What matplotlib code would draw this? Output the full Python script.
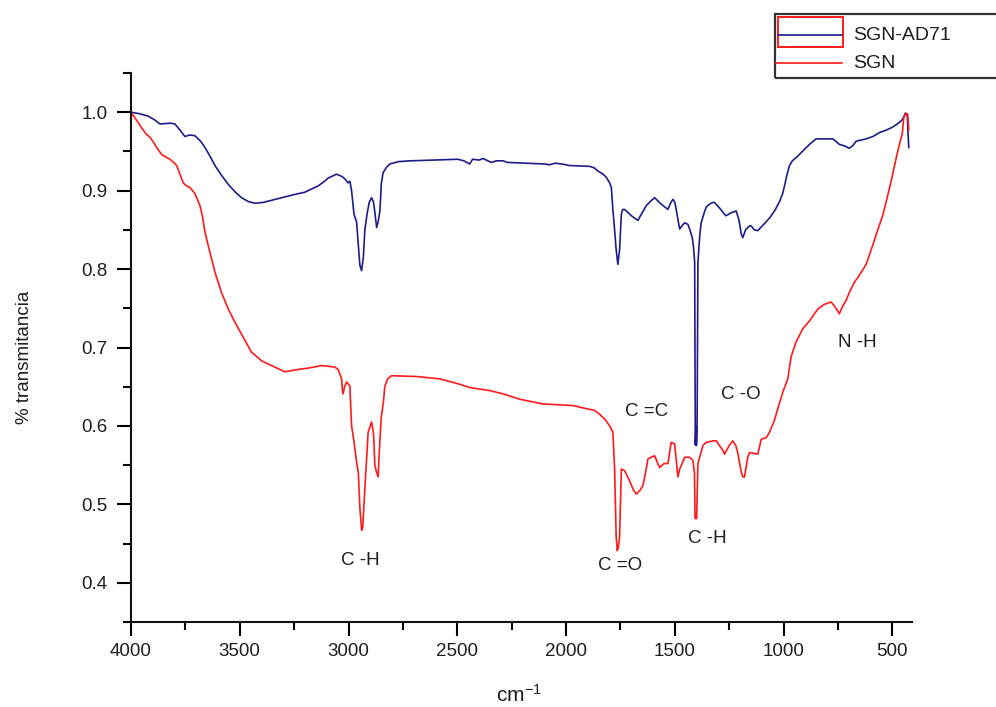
import matplotlib
matplotlib.use('Agg')
import matplotlib.pyplot as plt
from matplotlib.lines import Line2D
from matplotlib.patches import Rectangle
from matplotlib.ticker import MultipleLocator

plt.rcParams['font.family'] = ['Liberation Sans', 'DejaVu Sans']
plt.rcParams['mathtext.fontset'] = 'custom'
plt.rcParams['mathtext.rm'] = 'Liberation Sans'
plt.rcParams['mathtext.default'] = 'regular'

# FTIR spectra, wavenumber (cm-1) vs transmittance
series_names = ['SGN-AD71', 'SGN']

wn_ad71 = [4000, 3960, 3921, 3890, 3867, 3820, 3798, 3783, 3752, 3730, 3706, 3680, 3660,
           3637, 3614, 3585, 3553, 3520, 3492, 3460, 3430, 3392, 3350, 3308, 3250, 3201,
           3170, 3140, 3110, 3094, 3055, 3030, 3017, 3002, 2994, 2986, 2975, 2963, 2955,
           2948, 2940, 2932, 2925, 2915, 2905, 2894, 2885, 2878, 2871, 2864, 2856, 2849,
           2841, 2825, 2810, 2770, 2719, 2600, 2497, 2470, 2443, 2430, 2400, 2382, 2344,
           2320, 2290, 2270, 2190, 2100, 2076, 2050, 2020, 1984, 1892, 1870, 1854, 1830,
           1815, 1800, 1792, 1785, 1777, 1770, 1762, 1754, 1746, 1740, 1731, 1715, 1700,
           1670, 1650, 1631, 1610, 1593, 1575, 1563, 1532, 1520, 1509, 1500, 1494, 1478,
           1465, 1455, 1440, 1432, 1420, 1415, 1409, 1406, 1403, 1401, 1398, 1394, 1385,
           1379, 1365, 1356, 1340, 1325, 1318, 1295, 1272, 1264, 1240, 1218, 1205, 1195,
           1188, 1175, 1157, 1149, 1135, 1119, 1095, 1065, 1040, 1019, 1005, 996, 985,
           973, 960, 943, 910, 881, 851, 810, 774, 760, 744, 720, 698, 680, 667, 621, 590,
           560, 530, 499, 468, 453, 440, 432, 425]
tr_ad71 = [1.000, 0.998, 0.995, 0.990, 0.985, 0.986, 0.985, 0.980, 0.969, 0.971, 0.970, 0.963, 0.955,
           0.944, 0.932, 0.920, 0.908, 0.898, 0.891, 0.886, 0.884, 0.885, 0.888, 0.891, 0.895, 0.898,
           0.902, 0.906, 0.912, 0.916, 0.921, 0.918, 0.915, 0.910, 0.912, 0.900, 0.870, 0.860, 0.830,
           0.805, 0.798, 0.815, 0.850, 0.870, 0.885, 0.891, 0.885, 0.870, 0.853, 0.860, 0.874, 0.910,
           0.923, 0.930, 0.934, 0.937, 0.938, 0.939, 0.940, 0.938, 0.934, 0.940, 0.939, 0.941, 0.936,
           0.938, 0.938, 0.936, 0.935, 0.934, 0.933, 0.935, 0.934, 0.932, 0.931, 0.929, 0.925, 0.921,
           0.917, 0.910, 0.904, 0.876, 0.850, 0.825, 0.806, 0.825, 0.870, 0.876, 0.876, 0.872, 0.868,
           0.862, 0.872, 0.881, 0.887, 0.891, 0.886, 0.883, 0.876, 0.884, 0.889, 0.885, 0.876, 0.851,
           0.856, 0.859, 0.857, 0.851, 0.840, 0.830, 0.809, 0.576, 0.600, 0.575, 0.590, 0.809, 0.845,
           0.859, 0.872, 0.879, 0.883, 0.885, 0.885, 0.878, 0.870, 0.868, 0.872, 0.874, 0.862, 0.845,
           0.840, 0.850, 0.855, 0.855, 0.850, 0.849, 0.856, 0.865, 0.875, 0.886, 0.896, 0.906, 0.920,
           0.932, 0.938, 0.942, 0.951, 0.959, 0.966, 0.966, 0.966, 0.963, 0.959, 0.957, 0.954, 0.958, 0.963, 0.966, 0.969,
           0.974, 0.977, 0.981, 0.987, 0.991, 0.999, 0.996, 0.955]

wn_sgn = [4000, 3975, 3951, 3930, 3913, 3895, 3882, 3859, 3821, 3800, 3790, 3775, 3760, 3745,
          3729, 3706, 3683, 3670, 3660, 3637, 3614, 3584, 3553, 3522, 3484, 3446, 3420, 3400,
          3354, 3293, 3232, 3180, 3124, 3063, 3048, 3040, 3032, 3028, 3025, 3018, 3009, 2994,
          2986, 2975, 2963, 2955, 2948, 2940, 2935, 2925, 2910, 2894, 2885, 2879, 2870, 2864,
          2858, 2850, 2840, 2833, 2820, 2803, 2688, 2581, 2500, 2443, 2351, 2290, 2213, 2106,
          1969, 1907, 1870, 1846, 1820, 1800, 1785, 1777, 1770, 1765, 1760, 1754, 1746, 1731,
          1708, 1690, 1677, 1660, 1647, 1635, 1624, 1593, 1580, 1570, 1550, 1532, 1517, 1501,
          1486, 1478, 1465, 1455, 1432, 1417, 1410, 1407, 1404, 1400, 1397, 1394, 1371, 1356,
          1325, 1310, 1280, 1272, 1250, 1234, 1220, 1211, 1195, 1188, 1180, 1165, 1157, 1119,
          1103, 1080, 1065, 1045, 1027, 1004, 981, 966, 943, 912, 881, 843, 813, 782, 767, 755,
          744, 730, 713, 695, 675, 650, 621, 591, 570, 545, 525, 506, 484, 468, 455, 448, 440,
          430, 425]
tr_sgn = [1.000, 0.990, 0.980, 0.972, 0.968, 0.961, 0.955, 0.946, 0.940, 0.935, 0.932, 0.921, 0.910, 0.906,
          0.904, 0.896, 0.881, 0.865, 0.847, 0.821, 0.796, 0.770, 0.749, 0.732, 0.713, 0.694, 0.688, 0.683,
          0.677, 0.669, 0.672, 0.674, 0.677, 0.675, 0.672, 0.666, 0.660, 0.645, 0.641, 0.650, 0.656, 0.651,
          0.600, 0.580, 0.554, 0.540, 0.496, 0.467, 0.470, 0.520, 0.592, 0.605, 0.590, 0.549, 0.540, 0.535,
          0.570, 0.610, 0.630, 0.651, 0.660, 0.664, 0.663, 0.660, 0.654, 0.649, 0.645, 0.641, 0.634, 0.628,
          0.626, 0.622, 0.620, 0.615, 0.608, 0.600, 0.592, 0.545, 0.460, 0.441, 0.445, 0.459, 0.545, 0.543,
          0.530, 0.518, 0.513, 0.518, 0.524, 0.540, 0.558, 0.562, 0.553, 0.547, 0.552, 0.552, 0.579, 0.577,
          0.535, 0.545, 0.553, 0.560, 0.560, 0.556, 0.540, 0.482, 0.482, 0.482, 0.520, 0.552, 0.575, 0.579,
          0.581, 0.581, 0.569, 0.564, 0.575, 0.581, 0.575, 0.566, 0.541, 0.535, 0.535, 0.560, 0.566, 0.564,
          0.583, 0.585, 0.592, 0.605, 0.622, 0.643, 0.660, 0.688, 0.707, 0.724, 0.734, 0.749, 0.755, 0.758, 0.753, 0.748,
          0.743, 0.752, 0.760, 0.772, 0.783, 0.793, 0.806, 0.830, 0.848, 0.868, 0.890, 0.912, 0.940, 0.959, 0.972, 0.993, 0.998,
          0.998, 0.978]

# band assignments: label, wavenumber, transmittance position
band_labels = ['C -H', 'C =O', 'C =C', 'C -H', 'C -O', 'N -H']
band_wn = [2948, 1754, 1630, 1350, 1198, 661]
band_tr = [0.429, 0.422, 0.618, 0.456, 0.640, 0.707]

blue = '#1c1c8a'
red = '#ff1a1a'
txt = '#1e1e1e'

fig = plt.figure(figsize=(9.96, 7.07), dpi=100)
ax = fig.add_axes([131 / 996, 1 - 622 / 707, 781 / 996, 549 / 707])

ax.plot(wn_ad71, tr_ad71, color=blue, lw=1.2)
ax.plot(wn_sgn, tr_sgn, color=red, lw=1.2)

for lab, xw, yt in zip(band_labels, band_wn, band_tr):
    ax.text(xw, yt, lab, ha='center', va='center', fontsize=13.5, color=txt)

ax.set_xlim(4000, 410)
ax.set_ylim(0.35, 1.05)
ax.xaxis.set_major_locator(MultipleLocator(500))
ax.xaxis.set_minor_locator(MultipleLocator(250))
ax.yaxis.set_minor_locator(MultipleLocator(0.05))
ax.set_yticks([0.4, 0.5, 0.6, 0.7, 0.8, 0.9, 1.0])
ax.set_yticklabels(['0.4', '0.5', '0.6', '0.7', '0.8', '0.9', '1.0'])

for side in ['top', 'right']:
    ax.spines[side].set_visible(False)
for side in ['left', 'bottom']:
    ax.spines[side].set_linewidth(1.5)
    ax.spines[side].set_color('#111111')

ax.tick_params(which='major', direction='out', length=10, width=1.5, labelsize=13.5,
               labelcolor=txt, pad=5)
ax.tick_params(which='minor', direction='out', length=6, width=1.5)
ax.tick_params(axis='y', pad=7)

ax.set_xlabel('cm$^{-1}$', fontsize=15, color=txt)
ax.xaxis.set_label_coords((519 - 131) / 781, -0.113)
ax.set_ylabel('% transmitancia', fontsize=13.5, color=txt)
ax.yaxis.set_label_coords((33 - 131) / 781, 0.483)

# legend box drawn in figure pixels
W, H = 996, 707
def fx(px):
    return px / W
def fy(py):
    return 1 - py / H

fig.add_artist(Rectangle((fx(775), fy(78)), fx(300), 64 / H, transform=fig.transFigure,
                         fill=False, ec='#333333', lw=1.6))
fig.add_artist(Line2D([fx(778), fx(842)], [fy(35), fy(35)], transform=fig.transFigure,
                      color=blue, lw=1.2))
fig.add_artist(Rectangle((fx(778), fy(47)), 65 / W, 30 / H, transform=fig.transFigure,
                         fill=False, ec=red, lw=1.4))
fig.add_artist(Line2D([fx(776), fx(842)], [fy(63), fy(63)], transform=fig.transFigure,
                      color=red, lw=1.2))
fig.text(fx(853), fy(35), series_names[0], fontsize=14, va='center', ha='left', color=txt)
fig.text(fx(853), fy(63), series_names[1], fontsize=14, va='center', ha='left', color=txt)

fig.savefig('out.png', dpi=100)
